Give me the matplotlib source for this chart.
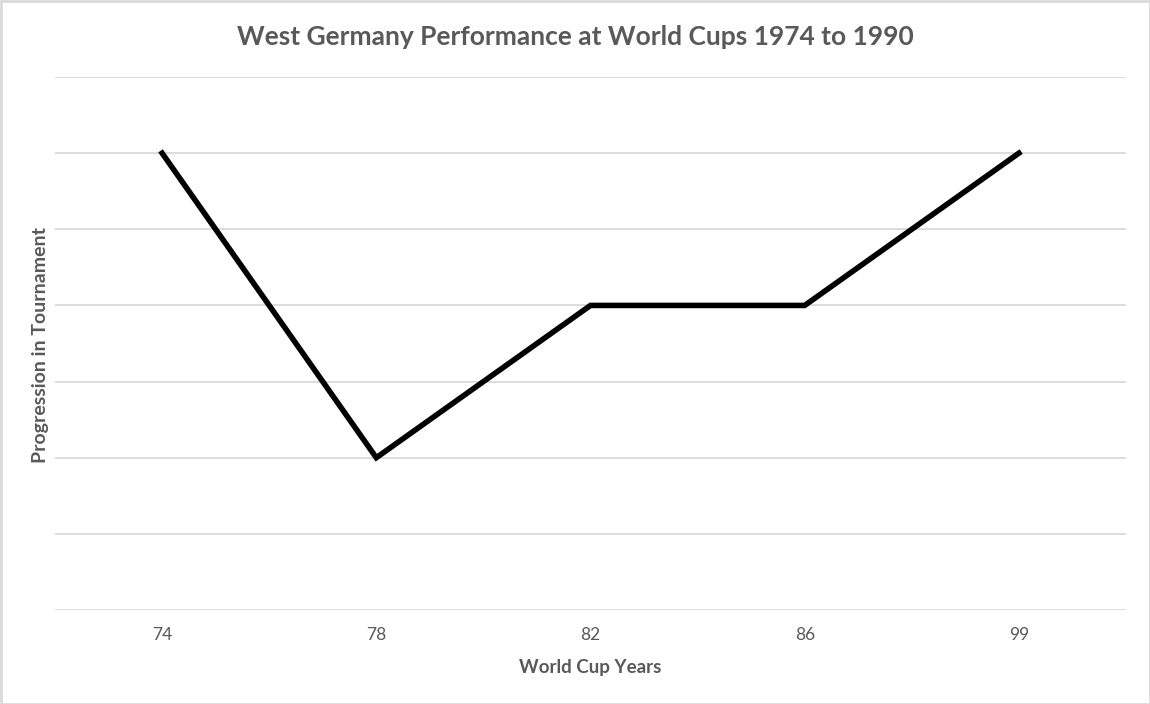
import matplotlib
matplotlib.use("Agg")
import matplotlib.pyplot as plt
from matplotlib.patches import Rectangle

years = ["74", "78", "82", "86", "99"]
progression = [6, 2, 4, 4, 6]
y_ticks = [0, 1, 2, 3, 4, 5, 6, 7]

plt.rcParams['font.family'] = ['Lato', 'DejaVu Sans']

fig = plt.figure(figsize=(11.5, 7.04), dpi=100)
ax = fig.add_axes([55/1150, (704-610)/704, (1126-55)/1150, (610-77)/704])

x = list(range(len(years)))
ax.plot(x, progression, color='black', linewidth=4, solid_joinstyle='miter', zorder=3)

ax.set_xlim(-0.5, len(years) - 0.5)
ax.set_ylim(0, 7)
ax.set_yticks(y_ticks)
ax.set_yticklabels([])
ax.set_xticks(x)
ax.set_xticklabels(years, color='#595959', fontsize=12.5)
ax.tick_params(axis='both', length=0, pad=12)
ax.grid(axis='y', color='#D9D9D9', linewidth=1.3)
ax.set_axisbelow(True)
for s in ax.spines.values():
    s.set_visible(False)

ax.set_xlabel("World Cup Years", color='#595959', fontsize=13.5, fontweight='bold', labelpad=12)
ax.set_ylabel("Progression in Tournament", color='#595959', fontsize=14, fontweight='bold')
ax.yaxis.set_label_coords((41 - 55) / (1126 - 55), (610 - 345) / (610 - 77))
ax.yaxis.label.set_va('center')

fig.text(575/1150, 1 - 37/704, "West Germany Performance at World Cups 1974 to 1990",
         ha='center', va='center', color='#595959', fontsize=19, fontweight='bold')

fig.patches.append(Rectangle((0.5/1150, 0.5/704), 1 - 1/1150, 1 - 1/704, transform=fig.transFigure,
                             fill=False, edgecolor='#D9D9D9', linewidth=2))

fig.savefig("out.png", dpi=100)
